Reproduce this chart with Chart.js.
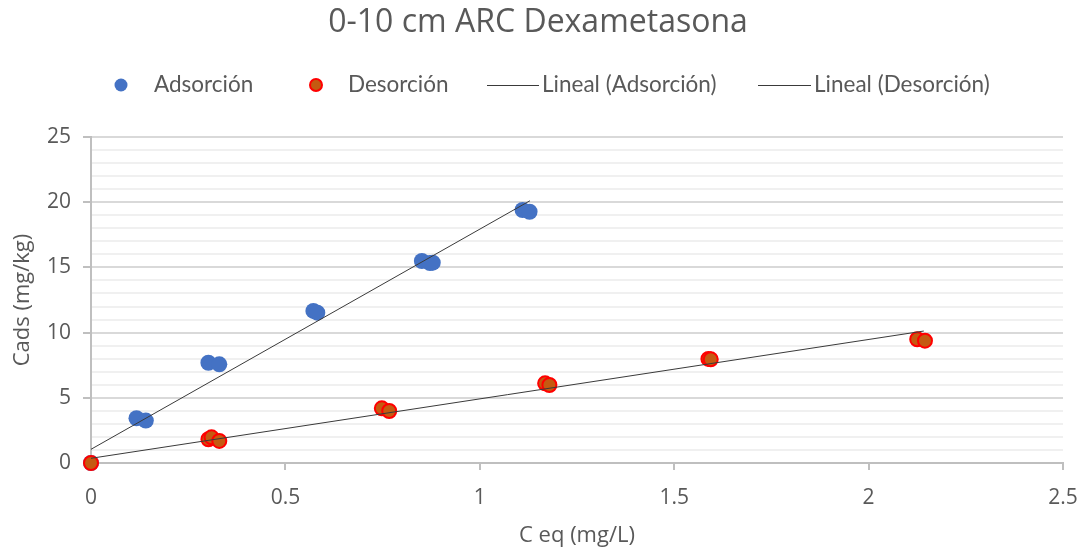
<!DOCTYPE html>
<html>
<head>
<meta charset="utf-8">
<script src="https://cdn.jsdelivr.net/npm/chart.js@4.4.1/dist/chart.umd.min.js"></script>
<style>
html,body{margin:0;padding:0;background:#fff;}
#wrap{width:1079px;height:552px;position:relative;}
</style>
</head>
<body>
<div id="wrap"><canvas id="c" width="1079" height="552"></canvas></div>
<script>
// ---- Data ----
const chartTitle = "0-10 cm ARC Dexametasona";
const xAxisTitle = "C eq (mg/L)";
const yAxisTitle = "Cads (mg/kg)";
const seriesNames = ["Adsorción", "Desorción", "Lineal (Adsorción)", "Lineal (Desorción)"];

const adsX = [0, 0.117, 0.141, 0.302, 0.330, 0.572, 0.582, 0.851, 0.872, 0.879, 1.110, 1.128];
const adsY = [0, 3.43, 3.25, 7.69, 7.57, 11.66, 11.53, 15.49, 15.33, 15.36, 19.40, 19.27];

const desX = [0, 0.302, 0.310, 0.330, 0.748, 0.767, 1.168, 1.179, 1.588, 1.594, 2.125, 2.145];
const desY = [0, 1.82, 1.97, 1.69, 4.19, 3.99, 6.11, 5.98, 7.98, 7.95, 9.49, 9.38];

const trendAdsX = [0, 1.129];
const trendAdsY = [1.05, 20.11];
const trendDesX = [0, 2.142];
const trendDesY = [0.36, 10.12];

const xTicks = [0, 0.5, 1, 1.5, 2, 2.5];
const yMajorStep = 5;

const pts = (xs, ys) => xs.map((x, i) => ({x: x, y: ys[i]}));

const TXT = '#595959';
const FONT = "'Open Sans', sans-serif";

const layoutPlugin = {
  id: 'customText',
  afterDraw(chart) {
    const ctx = chart.ctx;
    ctx.save();
    // Title
    ctx.fillStyle = TXT;
    ctx.font = "32px 'Open Sans'";
    ctx.textAlign = 'center';
    ctx.textBaseline = 'middle';
    ctx.fillText(chartTitle, 538, 23);
    // Legend
    const ly = 85;
    ctx.font = "22.5px Lato";
    ctx.textAlign = 'left';
    const ds = chart.data.datasets;
    // item 1: point
    ctx.beginPath();
    ctx.arc(121, ly, 6.5, 0, Math.PI * 2);
    ctx.fillStyle = ds[0].backgroundColor;
    ctx.fill();
    ctx.fillStyle = TXT;
    ctx.fillText(seriesNames[0], 154, ly);
    // item 2
    ctx.beginPath();
    ctx.arc(316, ly, 6, 0, Math.PI * 2);
    ctx.fillStyle = ds[1].backgroundColor;
    ctx.fill();
    ctx.lineWidth = 2;
    ctx.strokeStyle = ds[1].borderColor;
    ctx.stroke();
    ctx.fillStyle = TXT;
    ctx.fillText(seriesNames[1], 348, ly);
    // item 3 & 4: lines
    ctx.strokeStyle = ds[2].borderColor;
    ctx.lineWidth = 1;
    ctx.beginPath();
    ctx.moveTo(487, ly + 0.5); ctx.lineTo(539, ly + 0.5); ctx.stroke();
    ctx.fillText(seriesNames[2], 542, ly);
    ctx.beginPath();
    ctx.moveTo(758, ly + 0.5); ctx.lineTo(811, ly + 0.5); ctx.stroke();
    ctx.fillText(seriesNames[3], 814, ly);
    ctx.restore();
  }
};

new Chart(document.getElementById('c'), {
  type: 'scatter',
  data: {
    datasets: [
      {
        label: seriesNames[0],
        data: pts(adsX, adsY),
        backgroundColor: '#4472C4',
        borderColor: '#4472C4',
        borderWidth: 0,
        pointRadius: 8,
        clip: false,
        order: 3
      },
      {
        label: seriesNames[1],
        data: pts(desX, desY),
        backgroundColor: '#C55A11',
        borderColor: '#FF0000',
        borderWidth: 2,
        pointRadius: 7,
        clip: false,
        order: 2
      },
      {
        label: seriesNames[2],
        type: 'line',
        data: pts(trendAdsX, trendAdsY),
        borderColor: '#3a3a3a',
        borderWidth: 1,
        pointRadius: 0,
        fill: false,
        order: 1
      },
      {
        label: seriesNames[3],
        type: 'line',
        data: pts(trendDesX, trendDesY),
        borderColor: '#3a3a3a',
        borderWidth: 1,
        pointRadius: 0,
        fill: false,
        order: 1
      }
    ]
  },
  options: {
    responsive: false,
    animation: false,
    layout: { padding: { top: 137, right: 16, left: 0, bottom: 0 } },
    plugins: {
      legend: { display: false },
      title: { display: false },
      tooltip: { enabled: false }
    },
    scales: {
      x: {
        type: 'linear',
        min: 0, max: 2.5,
        afterBuildTicks: (s) => { s.ticks = xTicks.map(v => ({value: v})); },
        afterFit: (s) => { s.height = 89; s.paddingRight = 0; s.paddingLeft = 0; },
        ticks: {
          color: TXT,
          font: { family: FONT, size: 21 },
          padding: 15,
          maxRotation: 0,
          callback: (v) => String(v)
        },
        grid: {
          drawOnChartArea: false,
          drawTicks: true,
          tickLength: 7,
          tickColor: '#bfbfbf',
          lineWidth: 2
        },
        border: { color: '#bfbfbf', width: 2 },
        title: {
          display: true,
          text: xAxisTitle,
          color: TXT,
          font: { family: FONT, size: 22 },
          padding: { top: 0, bottom: 3 }
        }
      },
      y: {
        type: 'linear',
        min: 0, max: 25,
        afterFit: (s) => { s.width = 91; },
        ticks: {
          stepSize: 1,
          autoSkip: false,
          color: TXT,
          font: { family: FONT, size: 21 },
          padding: 12,
          callback: (v) => (v % yMajorStep === 0 ? String(v) : '')
        },
        grid: {
          color: (c) => (c.tick && c.tick.value % yMajorStep === 0 ? '#d9d9d9' : '#f0f0f0'),
          lineWidth: 2,
          tickColor: (c) => (c.tick && c.tick.value % yMajorStep === 0 ? '#bfbfbf' : 'rgba(0,0,0,0)'),
          tickLength: 8
        },
        border: { color: '#bfbfbf', width: 2 },
        title: {
          display: true,
          text: yAxisTitle,
          color: TXT,
          font: { family: FONT, size: 22 },
          padding: { top: 10, bottom: 0 }
        }
      }
    }
  },
  plugins: [layoutPlugin]
});
</script>
</body>
</html>
